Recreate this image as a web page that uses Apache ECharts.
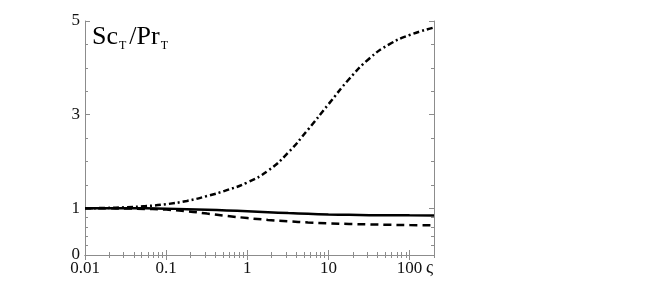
<!DOCTYPE html>
<html>
<head>
<meta charset="utf-8">
<script src="https://cdn.jsdelivr.net/npm/echarts@6/dist/echarts.min.js"></script>
<style>
  html, body { margin: 0; padding: 0; background: #fff; }
  #chart { width: 654px; height: 288px; }
</style>
</head>
<body>
<div id="chart"></div>
<script>
// ς values (log axis)
const zeta = [0.01, 0.018, 0.032, 0.056, 0.1, 0.18, 0.32, 0.56, 1, 1.8, 3.2, 5.6, 10, 18, 32, 56, 100, 200]
// Sc_T/Pr_T curves
const solidVals = [1.0, 1.0, 1.0, 0.997, 0.99, 0.98, 0.967, 0.952, 0.935, 0.915, 0.895, 0.88, 0.867, 0.858, 0.852, 0.849, 0.847, 0.845]
const dashedVals = [1.0, 0.998, 0.993, 0.985, 0.97, 0.935, 0.885, 0.835, 0.79, 0.75, 0.72, 0.695, 0.677, 0.664, 0.654, 0.646, 0.64, 0.635]
const dashDotVals = [1.0, 1.005, 1.02, 1.045, 1.085, 1.155, 1.26, 1.385, 1.55, 1.8, 2.19, 2.68, 3.22, 3.76, 4.2, 4.5, 4.7, 4.86]

// ticks
const xMajor = [0.01, 0.1, 1, 10, 100]
const xLabels = ['0.01', '0.1', '1', '10', '100']
const xMinor = []
;[0.01, 0.1, 1, 10, 100].forEach(d => {
  for (let k = 2; k <= 9; k++) {
    const v = +(d * k).toPrecision(3)
    if (v <= 200) xMinor.push(v)
  }
})
const yMajor = [0, 1, 3, 5]
const yMinor = [0.2, 0.4, 0.6, 0.8, 1.5, 2, 2.5, 3.5, 4, 4.5]

const chart = echarts.init(document.getElementById('chart'))

const frameColor = '#8c8c8c'
const font = 'Liberation Serif'

const xAxisDef = (position, ticks, len, withLabels, showLine) => ({
  type: 'log',
  min: 0.01,
  max: 200,
  position: position,
  splitLine: { show: false },
  axisLine: { show: showLine, lineStyle: { color: frameColor, width: 1 } },
  axisTick: { show: true, inside: true, length: len, customValues: ticks, lineStyle: { color: frameColor } },
  minorTick: { show: false },
  axisLabel: withLabels ? {
    customValues: xMajor,
    margin: 5,
    color: '#111',
    fontFamily: font,
    fontSize: 17,
    formatter: v => xLabels[xMajor.findIndex(m => Math.abs(m - v) / m < 1e-6)] || ''
  } : { show: false }
})

const yAxisDef = (position, ticks, len, withLabels, showLine) => ({
  type: 'value',
  min: 0,
  max: 5,
  position: position,
  splitLine: { show: false },
  axisLine: { show: showLine, lineStyle: { color: frameColor, width: 1 } },
  axisTick: { show: true, inside: true, length: len, customValues: ticks, lineStyle: { color: frameColor } },
  axisLabel: withLabels ? {
    customValues: yMajor,
    margin: 5,
    color: '#111',
    fontFamily: font,
    fontSize: 17
  } : { show: false }
})

const toPairs = vals => zeta.map((z, i) => [z, vals[i]])

const lineSeries = (vals, type) => ({
  type: 'line',
  data: toPairs(vals),
  smooth: true,
  showSymbol: false,
  lineStyle: { color: '#000', width: 2.5, type: type }
})

const options = {
  animation: false,
  grid: { left: 85, right: 220, top: 21, bottom: 33 },
  xAxis: [
    xAxisDef('bottom', xMajor, 5, true, true),
    xAxisDef('bottom', xMinor, 3, false, false),
    xAxisDef('top', xMajor, 5, false, true),
    xAxisDef('top', xMinor, 3, false, false)
  ],
  yAxis: [
    yAxisDef('left', yMajor, 5, true, true),
    yAxisDef('left', yMinor, 3, false, false),
    yAxisDef('right', yMajor, 5, false, true),
    yAxisDef('right', yMinor, 3, false, false)
  ],
  graphic: [
    {
      type: 'text',
      left: 92,
      top: 24,
      style: {
        text: '{a|Sc}{s|T}{a|/Pr}{s|T}',
        fill: '#000',
        rich: {
          a: { fontFamily: font, fontSize: 26, lineHeight: 30 },
          s: { fontFamily: font, fontSize: 12, lineHeight: 10, verticalAlign: 'bottom', padding: [0, 3, 0, 1] }
        }
      }
    },
    {
      type: 'text',
      left: 426,
      top: 259,
      style: { text: 'ς', fill: '#111', fontFamily: font, fontSize: 18 }
    }
  ],
  series: [
    lineSeries(solidVals, 'solid'),
    lineSeries(dashedVals, [8, 5]),
    lineSeries(dashDotVals, [6, 3, 2, 3])
  ]
}

chart.setOption(options)
</script>
</body>
</html>
